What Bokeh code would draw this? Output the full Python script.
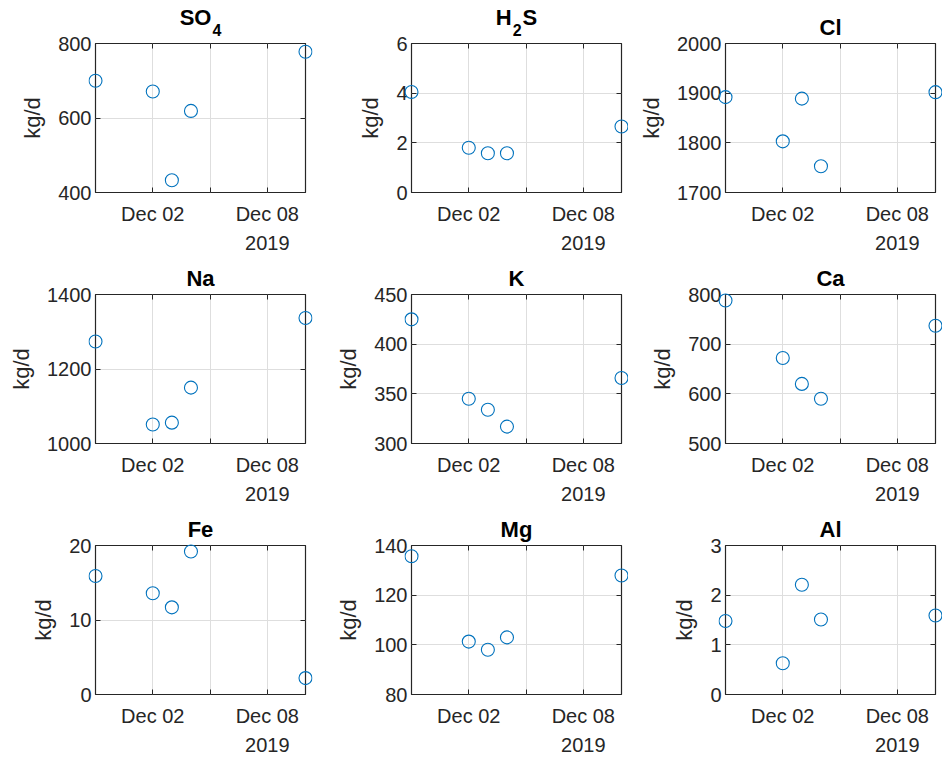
import datetime as dt

from bokeh.embed import file_html
from bokeh.layouts import column, row
from bokeh.models import (DatetimeAxis, DatetimeTickFormatter, FixedTicker,
                          Label, LinearAxis, Range1d)
from bokeh.plotting import figure
from bokeh.resources import INLINE

# ---- data: daily loads (kg/d) per constituent -------------------------------
sample_dates = [dt.datetime(2019, 11, 29), dt.datetime(2019, 12, 2),
                dt.datetime(2019, 12, 3), dt.datetime(2019, 12, 4),
                dt.datetime(2019, 12, 10)]

so4 = [700, 671, 433, 619, 778]
h2s = [4.05, 1.80, 1.58, 1.58, 2.66]
cl = [1892, 1803, 1889, 1753, 1902]
na = [1274, 1051, 1056, 1150, 1337]
k = [425, 345, 334, 317, 366]
ca = [788, 672, 620, 590, 737]
fe = [15.9, 13.6, 11.7, 19.2, 2.2]
mg = [135.7, 101.3, 98.0, 103.0, 127.9]
al = [1.48, 0.63, 2.21, 1.51, 1.59]

y_ticks = {
    "SO4": [400, 600, 800],
    "H2S": [0, 2, 4, 6],
    "Cl": [1700, 1800, 1900, 2000],
    "Na": [1000, 1200, 1400],
    "K": [300, 350, 400, 450],
    "Ca": [500, 600, 700, 800],
    "Fe": [0, 10, 20],
    "Mg": [80, 100, 120, 140],
    "Al": [0, 1, 2, 3],
}

x_start = dt.datetime(2019, 11, 29)
x_end = dt.datetime(2019, 12, 10)
x_labelled = [dt.datetime(2019, 12, 2), dt.datetime(2019, 12, 8)]
x_minor = [dt.datetime(2019, 12, 5)]
year_text = "2019"
unit_label = "kg/d"

# title pieces: (text, is_subscript)
panels = [
    ("SO4", [("SO", False), ("4", True)], so4),
    ("H2S", [("H", False), ("2", True), ("S", False)], h2s),
    ("Cl", [("Cl", False)], cl),
    ("Na", [("Na", False)], na),
    ("K", [("K", False)], k),
    ("Ca", [("Ca", False)], ca),
    ("Fe", [("Fe", False)], fe),
    ("Mg", [("Mg", False)], mg),
    ("Al", [("Al", False)], al),
]

# ---- styling / geometry -----------------------------------------------------
FONT = "Liberation Sans"
INK = "#262626"
GRID = "#dedede"
MARKER = "#0072BD"
TICK_PX = "20px"
LABEL_PX = "22px"
SUB_PX = "16px"
TITLE_SIZE, SUB_SIZE = 22, 16

CELL_W = 314
FRAME_W, FRAME_H = 210, 149
LEFT = [95, 97, 97]

HEAD_H = 41            # title strip; its bottom sits 2 px above the plot box
HEAD_GAP = 2
MAIN_TOP, MAIN_BOTTOM = 13, 35
MAIN_H = MAIN_TOP + FRAME_H + MAIN_BOTTOM
MAIN_OVERLAP = MAIN_TOP - HEAD_GAP   # plot canvas slides under the title strip
PAD = 7                # marker layer reaches this far past the box so edge circles stay whole
FOOT_H = 28            # strip holding the year under the date ticks
ROW_OVERLAP = 4        # next row's title strip overlaps the year strip

# label anchors are text-box centres; shift from baseline to centre (px)
MID_22, MID_20, MID_16 = 9.0, 8.0, 6.5

# approximate bold advance widths (em) used to centre split titles
BOLD_EM = {"S": 0.667, "O": 0.778, "H": 0.722, "2": 0.556, "4": 0.556}


def ms(d):
    return (d - dt.datetime(1970, 1, 1)).total_seconds() * 1000.0


def bare_fig(height, x_range, y_range, left, right, **kw):
    p = figure(width=CELL_W, height=height, x_range=x_range, y_range=y_range,
               output_backend="svg", toolbar_location=None, tools="",
               min_border_left=left, min_border_right=right,
               min_border_top=0, min_border_bottom=0, **kw)
    p.title.visible = False
    p.axis.visible = False
    p.grid.visible = False
    p.outline_line_color = None
    p.background_fill_color = None
    p.border_fill_color = None
    return p


def style_axis(ax, show_labels):
    ax.axis_line_color = None
    ax.major_tick_in = 5
    ax.major_tick_out = 0
    ax.minor_tick_in = 5
    ax.minor_tick_out = 0
    ax.major_tick_line_color = INK
    ax.minor_tick_line_color = INK
    ax.major_tick_line_width = 1
    ax.minor_tick_line_width = 1
    if show_labels:
        ax.major_label_text_font = FONT
        ax.major_label_text_font_size = TICK_PX
        ax.major_label_text_color = INK
    else:
        ax.major_label_text_font_size = "0px"
        ax.major_label_text_color = None
        ax.major_label_standoff = 0


def title_strip(col, pieces, margin):
    """Bold panel title; subscripts sit lower and smaller, as in SO4 / H2S."""
    p = bare_fig(HEAD_H, Range1d(0, 1), Range1d(0, 1),
                 LEFT[col], CELL_W - LEFT[col] - FRAME_W, margin=margin)
    has_sub = any(sub for _, sub in pieces)
    cx = FRAME_W / 2.0
    if not has_sub:
        p.add_layout(Label(x=cx, y=7.5 - HEAD_GAP + MID_22,
                           x_units="screen", y_units="screen",
                           text=pieces[0][0], text_align="center",
                           text_baseline="middle", text_font=FONT,
                           text_font_size=LABEL_PX, text_font_style="bold",
                           text_color="black"))
        return p
    widths = [sum(BOLD_EM.get(c, 0.6) for c in txt) * (SUB_SIZE if sub else TITLE_SIZE)
              for txt, sub in pieces]
    gap = 1
    total = sum(widths) + gap * (len(pieces) - 1)
    x = cx - total / 2.0
    for (txt, sub), w in zip(pieces, widths):
        base = 7.0 if sub else 17.5
        y = base - HEAD_GAP + (MID_16 if sub else MID_22)
        p.add_layout(Label(x=x, y=y, x_units="screen", y_units="screen",
                           text=txt, text_align="left", text_baseline="middle",
                           text_font=FONT, text_font_size=SUB_PX if sub else LABEL_PX,
                           text_font_style="bold", text_color="black"))
        x += w + gap
    return p


def axes_fig(col, key):
    """Box, grid, ticks and labels of one panel."""
    yt = y_ticks[key]
    x_range = Range1d(ms(x_start), ms(x_end))
    p = figure(width=CELL_W, height=MAIN_H,
               x_axis_type="datetime", x_range=x_range,
               y_range=Range1d(yt[0], yt[-1]),
               output_backend="svg", toolbar_location=None, tools="",
               min_border_left=LEFT[col], min_border_right=CELL_W - LEFT[col] - FRAME_W,
               min_border_top=MAIN_TOP, min_border_bottom=MAIN_BOTTOM,
               margin=(-MAIN_OVERLAP, 0, 0, 0))
    p.title.visible = False
    p.background_fill_color = "white"
    p.border_fill_color = None
    p.outline_line_color = INK
    p.outline_line_width = 1.2

    x_ticker = FixedTicker(ticks=[ms(d) for d in x_labelled],
                           minor_ticks=[ms(d) for d in x_minor])
    y_ticker = FixedTicker(ticks=yt)

    xa = p.xaxis[0]
    xa.ticker = x_ticker
    xa.formatter = DatetimeTickFormatter(days="%b %d", months="%b %d",
                                         hours="%b %d", years="%b %d")
    xa.major_label_standoff = 10
    style_axis(xa, True)

    ya = p.yaxis[0]
    ya.ticker = y_ticker
    ya.major_label_standoff = 4
    ya.axis_label = unit_label
    ya.axis_label_text_font = FONT
    ya.axis_label_text_font_size = LABEL_PX
    ya.axis_label_text_font_style = "normal"
    ya.axis_label_text_color = INK
    ya.axis_label_standoff = 10
    style_axis(ya, True)

    # mirrored tick marks on the top and right edges of the box
    top_ax = DatetimeAxis(ticker=x_ticker)
    style_axis(top_ax, False)
    p.add_layout(top_ax, "above")
    right_ax = LinearAxis(ticker=y_ticker)
    style_axis(right_ax, False)
    p.add_layout(right_ax, "right")

    for g in (p.xgrid[0], p.ygrid[0]):
        g.grid_line_color = GRID
        g.grid_line_width = 1
    p.xgrid[0].ticker = x_ticker
    p.xgrid[0].minor_grid_line_color = GRID
    p.ygrid[0].ticker = y_ticker
    return p, x_range


def marker_layer(col, key, values):
    """Transparent layer over the box, with ranges widened by PAD pixels
    on every side, so circles on the box edge are not cut in half."""
    yt = y_ticks[key]
    x0, x1 = ms(x_start), ms(x_end)
    dx = (x1 - x0) / FRAME_W * PAD
    y0, y1 = yt[0], yt[-1]
    dy = (y1 - y0) / FRAME_H * PAD
    # pull the layer up so its top edge is PAD px above the box top
    top = -(MAIN_H - MAIN_TOP + PAD)
    p = bare_fig(FRAME_H + 2 * PAD,
                 Range1d(x0 - dx, x1 + dx), Range1d(y0 - dy, y1 + dy),
                 LEFT[col] - PAD, CELL_W - LEFT[col] - FRAME_W - PAD,
                 margin=(top, 0, 0, 0), frame_align=False)
    p.scatter(sample_dates, values, marker="circle", size=13,
              fill_color=None, line_color=MARKER, line_width=1.1)
    return p


def year_strip(col, x_range):
    # sits right under the axes canvas
    p = bare_fig(FOOT_H, x_range, Range1d(0, 1),
                 LEFT[col], CELL_W - LEFT[col] - FRAME_W,
                 margin=(MAIN_BOTTOM - PAD, 0, 0, 0))
    # baseline 5 px above the strip bottom
    p.add_layout(Label(x=ms(x_labelled[-1]), y=5 + MID_20, y_units="screen",
                       text=year_text, text_align="center",
                       text_baseline="middle", text_font=FONT,
                       text_font_size=TICK_PX, text_color=INK))
    return p


rows = []
for r in range(3):
    cells = []
    for c in range(3):
        key, pieces, values = panels[r * 3 + c]
        top_margin = (-ROW_OVERLAP, 0, 0, 0) if r > 0 else None
        head = title_strip(c, pieces, top_margin)
        body, xr = axes_fig(c, key)
        dots = marker_layer(c, key, values)
        foot = year_strip(c, xr)
        cells.append(column(head, body, dots, foot, spacing=0))
    rows.append(row(*cells, spacing=0))

layout = column(*rows, spacing=0)

with open("out.html", "w") as f:
    f.write(file_html(layout, INLINE))
